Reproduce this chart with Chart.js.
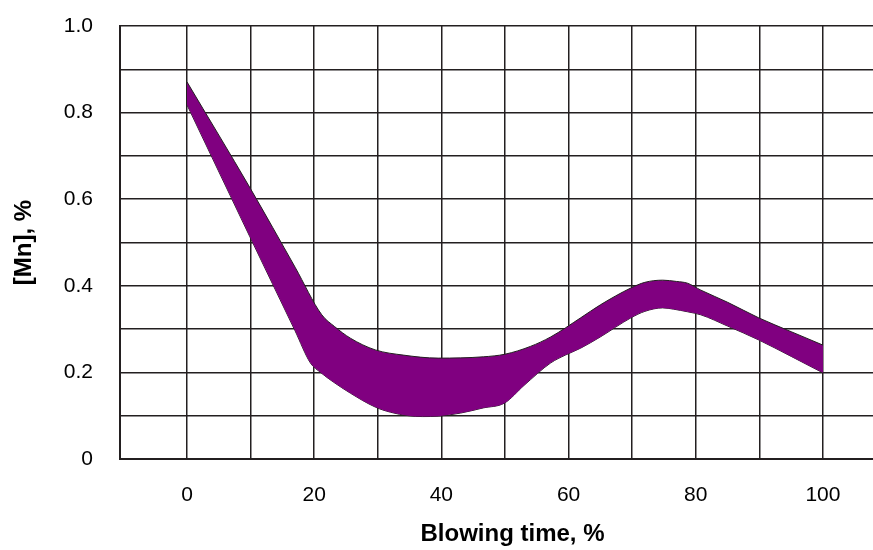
<!DOCTYPE html>
<html>
<head>
<meta charset="utf-8">
<script src="https://cdn.jsdelivr.net/npm/chart.js@4"></script>
<style>
  body { margin: 0; background: #fff; overflow: hidden; }
</style>
</head>
<body>
<!-- the plot runs past the right edge of the window, as in the cropped original -->
<canvas id="chart-mn" width="905" height="550"></canvas>
<script>
//*** DATA ***//
// upper edge of the [Mn] band
const upperX = [0, 10, 17, 21.2, 23.2, 25.7, 29.6, 34, 39.5, 46.6, 50, 54, 57.2, 61.9, 65, 69.8, 72, 74.8, 77, 78.7, 80.8, 85, 89.9, 95, 100];
const upperY = [0.871, 0.624, 0.443, 0.333, 0.306, 0.279, 0.252, 0.240, 0.233, 0.236, 0.242, 0.260, 0.282, 0.326, 0.356, 0.395, 0.408, 0.413, 0.410, 0.406, 0.390, 0.362, 0.326, 0.294, 0.263];

// lower edge of the [Mn] band
const lowerX = [0, 9.9, 17, 19.4, 21, 23, 25.7, 29.6, 32, 34.8, 37, 39.5, 43, 46.6, 49.9, 53, 57.2, 59.5, 61.9, 65, 69.8, 72, 74.8, 76.5, 78.7, 80.8, 85, 89.9, 95, 100];
const lowerY = [0.818, 0.513, 0.296, 0.222, 0.200, 0.178, 0.152, 0.120, 0.108, 0.100, 0.098, 0.099, 0.106, 0.118, 0.129, 0.170, 0.222, 0.240, 0.256, 0.282, 0.326, 0.341, 0.349, 0.346, 0.340, 0.333, 0.307, 0.275, 0.237, 0.199];

// axis ticks
const xTicks = [0, 10, 20, 30, 40, 50, 60, 70, 80, 90, 100, 110];
const xLabels = [0, 20, 40, 60, 80, 100];
const yLabels = ['0', '0.2', '0.4', '0.6', '0.8', '1.0'];


//*** FUNCTIONS ***//
const toPoints = (xs, ys) => xs.map((x, i) => ({ x, y: ys[i] }));

const gridColor = '#231f20';
const font = { family: "'Liberation Sans', Arial, sans-serif", size: 21 };
const boldFont = { family: "'Liberation Sans', Arial, sans-serif", size: 24, weight: 'bold' };


//*** CHART ***//
new Chart(document.getElementById('chart-mn'), {
    type: 'line',
    data: {
        datasets: [{
            label: 'upper',
            data: toPoints(upperX, upperY),
            fill: '+1',
            backgroundColor: '#800080',
            borderColor: gridColor,
            borderWidth: 1,
            pointRadius: 0,
            cubicInterpolationMode: 'monotone'
        }, {
            label: 'lower',
            data: toPoints(lowerX, lowerY),
            fill: false,
            borderColor: gridColor,
            borderWidth: 1,
            pointRadius: 0,
            cubicInterpolationMode: 'monotone'
        }]
    },
    options: {
        responsive: false,
        animation: false,
        layout: { padding: { top: 26, right: 0, left: 0, bottom: 0 } },
        plugins: {
            legend: { display: false },
            tooltip: { enabled: false }
        },
        scales: {
            x: {
                type: 'linear',
                min: -10.53,
                max: 112.9,
                afterBuildTicks: (scale) => {
                    scale.ticks = xTicks.map(value => ({ value }));
                },
                afterFit: (scale) => {
                    scale.height = 91;
                    scale.paddingLeft = 0;
                    scale.paddingRight = 0;
                },
                ticks: {
                    color: '#000',
                    font,
                    padding: 24,
                    maxRotation: 0,
                    autoSkip: false,
                    callback: (v) => xLabels.includes(v) ? String(v) : ''
                },
                grid: { color: gridColor, lineWidth: 1.5, drawTicks: false },
                border: { color: gridColor, width: 2 },
                title: {
                    display: true,
                    text: 'Blowing time, %',
                    color: '#000',
                    font: boldFont,
                    padding: { top: 0, bottom: 1 }
                }
            },
            y: {
                min: 0,
                max: 1,
                afterFit: (scale) => {
                    scale.width = 120;
                    scale.paddingTop = 0;
                    scale.paddingBottom = 0;
                },
                ticks: {
                    stepSize: 0.1,
                    color: '#000',
                    font,
                    padding: 27,
                    autoSkip: false,
                    callback: (v) => {
                        const k = Math.round(v * 10);
                        return k % 2 === 0 ? yLabels[k / 2] : '';
                    }
                },
                grid: { color: gridColor, lineWidth: 1.5, drawTicks: false },
                border: { color: gridColor, width: 2 },
                title: {
                    display: true,
                    text: '[Mn], %',
                    color: '#000',
                    font: boldFont,
                    padding: { top: 10, bottom: 0 }
                }
            }
        }
    }
});
</script>
</body>
</html>
